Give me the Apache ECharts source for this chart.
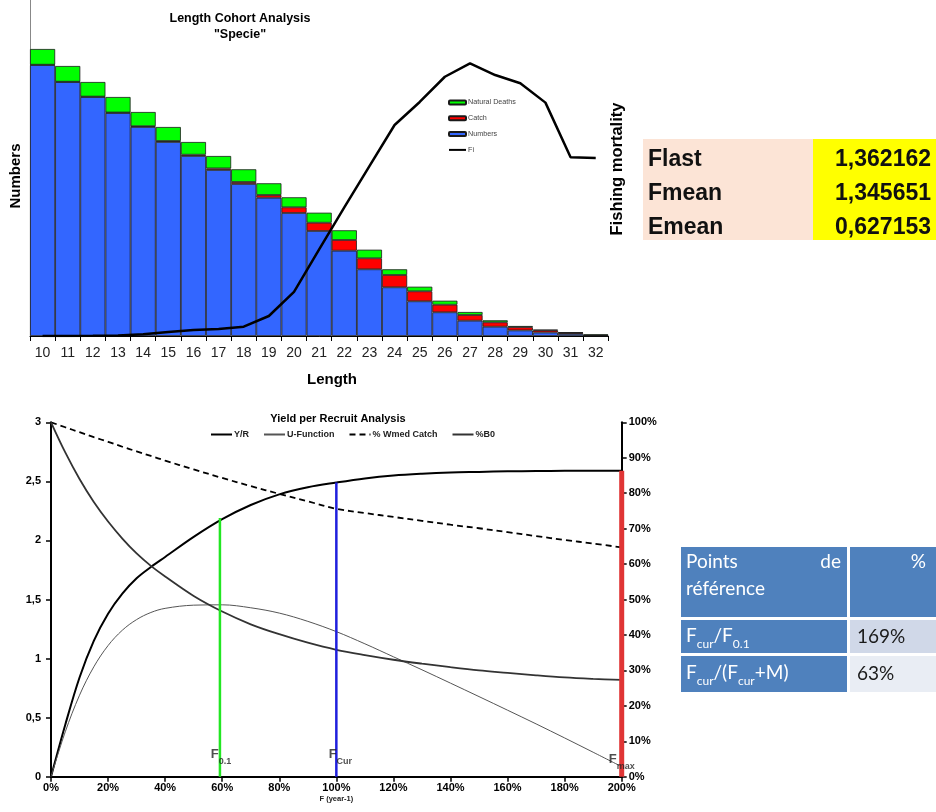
<!DOCTYPE html>
<html><head><meta charset="utf-8">
<script src="https://cdn.jsdelivr.net/npm/echarts@6/dist/echarts.min.js"></script>
<style>html,body{margin:0;padding:0;background:#fff}#c{width:936px;height:812px}</style>
</head><body><div id="c"></div><script>
// ---------- Length cohort analysis data ----------
const lengths = ['10','11','12','13','14','15','16','17','18','19','20','21','22','23','24','25','26','27','28','29','30','31','32'];
const numbersN = [271,254,239,223,209,194,180,166,152,138.3,123,105,85.3,66.7,48.7,34.7,23.7,15.3,9.3,5.6,3.5,2.1,0.3];
const catchN = [0.3,0.3,0.4,0.5,0.8,1,1.3,1.6,2,2.7,5.7,8.3,10.7,11,12.3,10,7.6,5.7,4.4,3.2,2.1,1.2,0.4];
const naturalDeaths = [15.7,15.7,14.6,15.5,14.2,14,12.7,12.4,12.7,11.7,10,10,9.7,8.6,5.7,4.6,4,3,2,1.2,0.7,0.4,1.0];
const fiValues = [0,0,0.001,0.004,0.013,0.031,0.046,0.054,0.071,0.153,0.337,0.663,0.984,1.3,1.614,1.79,1.983,2.086,1.996,1.933,1.785,1.367,1.362];

// ---------- Yield per recruit data ----------
const fPct = [0,5,10,15,20,25,30,35,40,50,60,70,80,90,100,110,120,130,140,150,160,170,180,190,200];
const yieldPerRecruit = [0,0.44,0.84,1.15,1.38,1.55,1.68,1.775,1.86,2.03,2.18,2.30,2.39,2.45,2.49,2.525,2.55,2.565,2.575,2.58,2.585,2.587,2.589,2.59,2.59];
const uFunction = [0,0.38,0.69,0.93,1.11,1.24,1.33,1.39,1.425,1.452,1.455,1.43,1.385,1.315,1.228,1.125,1.015,0.905,0.792,0.678,0.563,0.447,0.328,0.207,0.085];
const wmedCatchPct = [100,98.6,97.2,95.8,94.5,93.1,91.8,90.5,89.2,86.7,84.3,82,79.8,77.7,75.6,74.4,73.3,72.2,71.1,70.1,69.0,67.9,66.8,65.8,64.7];
const b0Pct = [100,91.5,84,77.5,72,67.2,63,59.5,56.5,51,46.6,43,40.2,37.8,35.8,34.3,33.0,31.9,30.9,30.0,29.3,28.6,28.0,27.6,27.3];
const refNames = ['F0.1','FCur','Fmax'];
const refF = [59.2,100,200];
const refYR = [2.19,2.49,2.59];
const refSub = ['0.1','Cur','max'];
const refColors = ['#22e622','#1f1fdd','#e03535'];

// ---------- Tables ----------
const summaryLabels = ['Flast','Fmean','Emean'];
const summaryValues = ['1,362162','1,345651','0,627153'];
const refTableRows = [
  ['{m|F}{s|cur}{m|/F}{s|0.1}','169%'],
  ['{m|F}{s|cur}{m|/(F}{s|cur}{m|+M)}','63%']
];

const FONT = '"Liberation Sans", Arial, sans-serif';
const chart = echarts.init(document.getElementById('c'));

const zip = (a,b) => a.map((v,i)=>[v,b[i]]);

const graphics = [];
// axis titles
graphics.push({type:'text', x:16, y:176, rotation:Math.PI/2, style:{text:'Numbers', font:'bold 15px '+FONT, fill:'#000', align:'center', verticalAlign:'middle'}});
graphics.push({type:'text', x:617, y:169, rotation:Math.PI/2, style:{text:'Fishing mortality', font:'bold 16.5px '+FONT, fill:'#000', align:'center', verticalAlign:'middle'}});
graphics.push({type:'text', x:332, y:380, style:{text:'Length', font:'bold 15px '+FONT, fill:'#000', align:'center', verticalAlign:'middle'}});
// summary table
graphics.push({type:'rect', shape:{x:643,y:139,width:170,height:101}, style:{fill:'#FCE4D6'}});
graphics.push({type:'rect', shape:{x:813,y:139,width:123,height:101}, style:{fill:'#FFFF00'}});
summaryLabels.forEach((l,i)=>{
  const y = 159.5 + i*34;
  graphics.push({type:'text', x:648, y:y, style:{text:l, font:'bold 23px '+FONT, fill:'#111', align:'left', verticalAlign:'middle'}});
  graphics.push({type:'text', x:931, y:y, style:{text:summaryValues[i], font:'bold 23px '+FONT, fill:'#111', align:'right', verticalAlign:'middle'}});
});
// reference table
const BLUE = '#4F81BD';
graphics.push({type:'rect', shape:{x:681,y:547,width:166,height:70}, style:{fill:BLUE}});
graphics.push({type:'rect', shape:{x:850,y:547,width:86,height:70}, style:{fill:BLUE}});
graphics.push({type:'rect', shape:{x:681,y:620,width:166,height:33}, style:{fill:BLUE}});
graphics.push({type:'rect', shape:{x:850,y:620,width:86,height:33}, style:{fill:'#D0D8E8'}});
graphics.push({type:'rect', shape:{x:681,y:656,width:166,height:36}, style:{fill:BLUE}});
graphics.push({type:'rect', shape:{x:850,y:656,width:86,height:36}, style:{fill:'#E9EDF4'}});
const TF = 'Lato, "Open Sans", sans-serif';
graphics.push({type:'text', x:686, y:562, style:{text:'Points', font:'19px '+TF, fill:'#fff', align:'left', verticalAlign:'middle'}});
graphics.push({type:'text', x:841, y:562, style:{text:'de', font:'19px '+TF, fill:'#fff', align:'right', verticalAlign:'middle'}});
graphics.push({type:'text', x:686, y:589, style:{text:'référence', font:'19px '+TF, fill:'#fff', align:'left', verticalAlign:'middle'}});
graphics.push({type:'text', x:926, y:562, style:{text:'%', font:'19px '+TF, fill:'#fff', align:'right', verticalAlign:'middle'}});
refTableRows.forEach((r,i)=>{
  const y = i===0 ? 637 : 674;
  graphics.push({type:'text', x:686, y:y, style:{text:r[0], fill:'#fff', align:'left', verticalAlign:'middle',
    rich:{m:{fontFamily:TF, fontSize:19, color:'#fff', lineHeight:22, verticalAlign:'top'},
          s:{fontFamily:TF, fontSize:12, color:'#fff', lineHeight:12, padding:[12,0,0,0], verticalAlign:'top'}}}});
  graphics.push({type:'text', x:857, y:y, style:{text:r[1], font:'19px '+TF, fill:'#1a1a1a', align:'left', verticalAlign:'middle'}});
});

const barStyle = c => ({color:c, borderColor:'#1a1a1a', borderWidth:0.8});
const noSymbol = {color:'rgba(0,0,0,0)', borderColor:'rgba(0,0,0,0)', borderWidth:0, opacity:0};

const option = {
  backgroundColor:'#fff',
  animation:false,
  textStyle:{fontFamily:FONT},
  title:[
    {text:'Length Cohort Analysis\n"Specie"', left:235, top:6, textAlign:'center',
     textStyle:{fontFamily:FONT, fontSize:12.5, fontWeight:'bold', color:'#000', lineHeight:16}},
    {text:'Yield per Recruit Analysis', left:333, top:408, textAlign:'center',
     textStyle:{fontFamily:FONT, fontSize:11, fontWeight:'bold', color:'#000'}}
  ],
  legend:[
    {orient:'vertical', left:443, top:93, itemWidth:17, itemHeight:4, itemGap:6.8,
     data:['Natural Deaths','Catch','Numbers',{name:'Fi', itemStyle:noSymbol}],
     textStyle:{fontFamily:FONT, fontSize:7.2, color:'#444', lineHeight:9, padding:[0,0,0,-3]}},
    {orient:'horizontal', left:205, top:425, itemWidth:21, itemHeight:6, itemGap:14,
     data:['Y/R','U-Function','% Wmed Catch','%B0'],
     itemStyle:noSymbol,
     textStyle:{fontFamily:FONT, fontSize:9, fontWeight:'bold', color:'#222', padding:[0,0,0,-3]}}
  ],
  grid:[
    {left:30, right:327.7, top:0, bottom:476, outerBoundsMode:'none'},
    {left:51, right:314.3, top:422.3, bottom:35.3, outerBoundsMode:'none'}
  ],
  xAxis:[
    {type:'category', gridIndex:0, data:lengths, boundaryGap:true,
     axisLine:{lineStyle:{color:'#000', width:1}},
     axisTick:{show:true, alignWithLabel:false, length:5, lineStyle:{color:'#000'}},
     axisLabel:{fontFamily:FONT, fontSize:14, color:'#222', margin:10},
     splitLine:{show:false}},
    {type:'value', gridIndex:1, min:0, max:200, interval:20,
     name:'F (year-1)', nameLocation:'middle', nameGap:18,
     nameTextStyle:{fontFamily:FONT, fontSize:7.5, fontWeight:'bold', color:'#222'},
     axisLine:{lineStyle:{color:'#000', width:2}},
     axisTick:{show:true, length:5, lineStyle:{color:'#000', width:1.5}},
     axisLabel:{fontFamily:FONT, fontSize:11, fontWeight:'bold', color:'#000', margin:6, formatter:'{value}%'},
     splitLine:{show:false}}
  ],
  yAxis:[
    {type:'value', gridIndex:0, min:0, max:336, axisLine:{show:true, lineStyle:{color:'#888', width:1}},
     axisTick:{show:false}, axisLabel:{show:false}, splitLine:{show:false}},
    {type:'value', gridIndex:0, min:0, max:2.57, position:'right', axisLine:{show:false},
     axisTick:{show:false}, axisLabel:{show:false}, splitLine:{show:false}},
    {type:'value', gridIndex:1, min:0, max:3, interval:0.5, position:'left',
     axisLine:{show:true, lineStyle:{color:'#000', width:2}},
     axisTick:{show:true, length:5, lineStyle:{color:'#000', width:1.5}},
     axisLabel:{fontFamily:FONT, fontSize:11, fontWeight:'bold', color:'#000', margin:10,
       formatter:v=>String(v).replace('.',',')},
     splitLine:{show:false}},
    {type:'value', gridIndex:1, min:0, max:100, interval:10, position:'right',
     axisLine:{show:true, lineStyle:{color:'#000', width:2}},
     axisTick:{show:true, length:5, lineStyle:{color:'#000', width:1.5}},
     axisLabel:{fontFamily:FONT, fontSize:11, fontWeight:'bold', color:'#000', margin:7, formatter:'{value}%'},
     splitLine:{show:false}}
  ],
  series:[
    {name:'Numbers', type:'bar', xAxisIndex:0, yAxisIndex:0, stack:'cohort', barCategoryGap:'0%', data:numbersN, itemStyle:barStyle('#3366FF')},
    {name:'Catch', type:'bar', xAxisIndex:0, yAxisIndex:0, stack:'cohort', barCategoryGap:'0%', data:catchN, itemStyle:barStyle('#FF0000')},
    {name:'Natural Deaths', type:'bar', xAxisIndex:0, yAxisIndex:0, stack:'cohort', barCategoryGap:'0%', data:naturalDeaths, itemStyle:barStyle('#00FF00')},
    {name:'Fi', type:'line', xAxisIndex:0, yAxisIndex:1, data:fiValues, symbol:'none',
     lineStyle:{color:'#000', width:2.5}, itemStyle:{color:'#000'}},

    {name:'Y/R', type:'line', xAxisIndex:1, yAxisIndex:2, data:zip(fPct, yieldPerRecruit), symbol:'none', smooth:0.35,
     lineStyle:{color:'#000', width:2}, itemStyle:{color:'#000'}},
    {name:'U-Function', type:'line', xAxisIndex:1, yAxisIndex:2, data:zip(fPct, uFunction), symbol:'none', smooth:0.35,
     lineStyle:{color:'#555', width:1}, itemStyle:{color:'#555'}},
    {name:'% Wmed Catch', type:'line', xAxisIndex:1, yAxisIndex:3, data:zip(fPct, wmedCatchPct), symbol:'none', smooth:0.35,
     lineStyle:{color:'#000', width:1.8, type:[6,4]}, itemStyle:{color:'#000'}},
    {name:'%B0', type:'line', xAxisIndex:1, yAxisIndex:3, data:zip(fPct, b0Pct), symbol:'none', smooth:0.35,
     lineStyle:{color:'#333', width:1.8}, itemStyle:{color:'#333'}},

    ...refF.map((f,i)=>({name:refNames[i], type:'line', xAxisIndex:1, yAxisIndex:2, symbol:'none',
      data:[[f,0],[f,refYR[i]]], lineStyle:{color:refColors[i], width:i===2?5:2.5}, z:3})),
    {name:'refLabels', type:'scatter', xAxisIndex:1, yAxisIndex:2, symbolSize:1, itemStyle:{color:'rgba(0,0,0,0)'}, z:5,
     data:refF.map((f,i)=>({value:[f,0], label:{show:true, position:'top', distance:4,
       offset:[i===1?4:(i===2?0:1), i===2?-3:-8],
       formatter:'{a|F}{b|'+refSub[i]+'}'}})),
     label:{rich:{a:{fontFamily:FONT, fontSize:13, fontWeight:'bold', color:'#222', lineHeight:16, verticalAlign:'top'},
                  b:{fontFamily:FONT, fontSize:9, fontWeight:'bold', color:'#222', lineHeight:9, padding:[9,0,0,0], verticalAlign:'top'}}}}
  ],
  graphic:graphics
};
chart.setOption(option);
</script></body></html>
